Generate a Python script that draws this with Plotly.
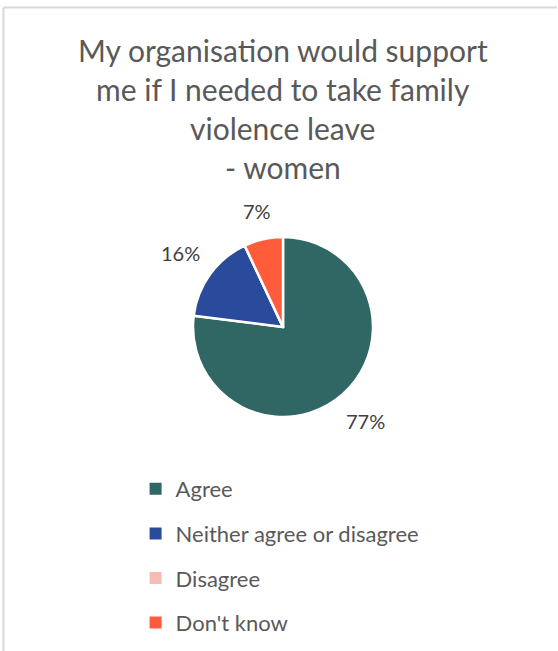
import math
import plotly.graph_objects as go

# Survey responses (women)
categories = ["Agree", "Neither agree or disagree", "Disagree", "Don't know"]
shares = [77, 16, 0, 7]
colors = ["#306663", "#2A4A9C", "#F5BCB4", "#FF5C3C"]
title_lines = ["My organisation would support", "me if I needed to take family",
               "violence leave", "- women"]

W, H = 558, 651
FONT = "Lato"
TEXT_COLOR = "#595959"
LABEL_COLOR = "#404040"
LABEL_SIZE = 20

# Pie geometry in pixels
CX, CY, R = 283, 327, 90
LABEL_GAP = 16

fig = go.Figure()
fig.add_trace(go.Pie(
    labels=categories,
    values=shares,
    textinfo="none",
    sort=False,
    direction="clockwise",
    rotation=0,
    marker=dict(colors=colors, line=dict(color="white", width=2.5)),
    showlegend=False,
    domain=dict(x=[(CX - R) / W, (CX + R) / W], y=[1 - (CY + R) / H, 1 - (CY - R) / H]),
    hoverinfo="label+percent",
))

# Legend entries, one per category, spaced apart with group gaps
for i, (cat, col) in enumerate(zip(categories, colors)):
    fig.add_trace(go.Scatter(
        x=[None], y=[None], mode="markers", name=cat,
        marker=dict(symbol="square", size=8, color=col),
        legendgroup=f"g{i}", showlegend=True, hoverinfo="skip",
    ))

annotations = []
for i, line in enumerate(title_lines):
    annotations.append(dict(
        text=line, x=0.507, y=1 - (50 + 39 * i) / H, xref="paper", yref="paper",
        xanchor="center", yanchor="middle", showarrow=False,
        font=dict(family=FONT, size=30, color=TEXT_COLOR),
    ))

# Percentage labels placed just outside each slice, along its mid-angle
total = sum(shares)
start = 0.0
for v in shares:
    frac = v / total
    mid = (start + frac / 2) * 2 * math.pi
    start += frac
    if v == 0:
        continue
    txt = f"{v}%"
    ux, uy = math.sin(mid), -math.cos(mid)
    half_w = 0.3 * LABEL_SIZE * len(txt)
    half_h = 0.5 * LABEL_SIZE
    dist = R + LABEL_GAP + abs(ux) * half_w + abs(uy) * half_h
    px, py = CX + dist * ux, CY + dist * uy
    annotations.append(dict(
        text=txt, x=px / W, y=1 - py / H, xref="paper", yref="paper",
        xanchor="center", yanchor="middle", showarrow=False,
        font=dict(family=FONT, size=LABEL_SIZE, color=LABEL_COLOR),
    ))

fig.update_layout(
    width=W, height=H,
    margin=dict(l=0, r=0, t=0, b=0),
    paper_bgcolor="white", plot_bgcolor="white",
    xaxis=dict(visible=False, range=[0, 1], domain=[0, 0.01]),
    yaxis=dict(visible=False, range=[0, 1], domain=[0, 0.01]),
    annotations=annotations,
    legend=dict(
        x=0.243, y=1 - 468 / H, xanchor="left", yanchor="top",
        font=dict(family=FONT, size=22, color=TEXT_COLOR),
        tracegroupgap=13, itemsizing="constant",
        bgcolor="rgba(0,0,0,0)",
    ),
    shapes=[
        dict(type="line", xref="paper", yref="paper",
             x0=3.5 / W, x1=557 / W, y0=1 - 7.5 / H, y1=1 - 7.5 / H,
             line=dict(color="#D9D9D9", width=2)),
        dict(type="line", xref="paper", yref="paper",
             x0=3.5 / W, x1=3.5 / W, y0=0, y1=1 - 7.5 / H,
             line=dict(color="#D9D9D9", width=2)),
    ],
)

fig.write_html("out.html")
